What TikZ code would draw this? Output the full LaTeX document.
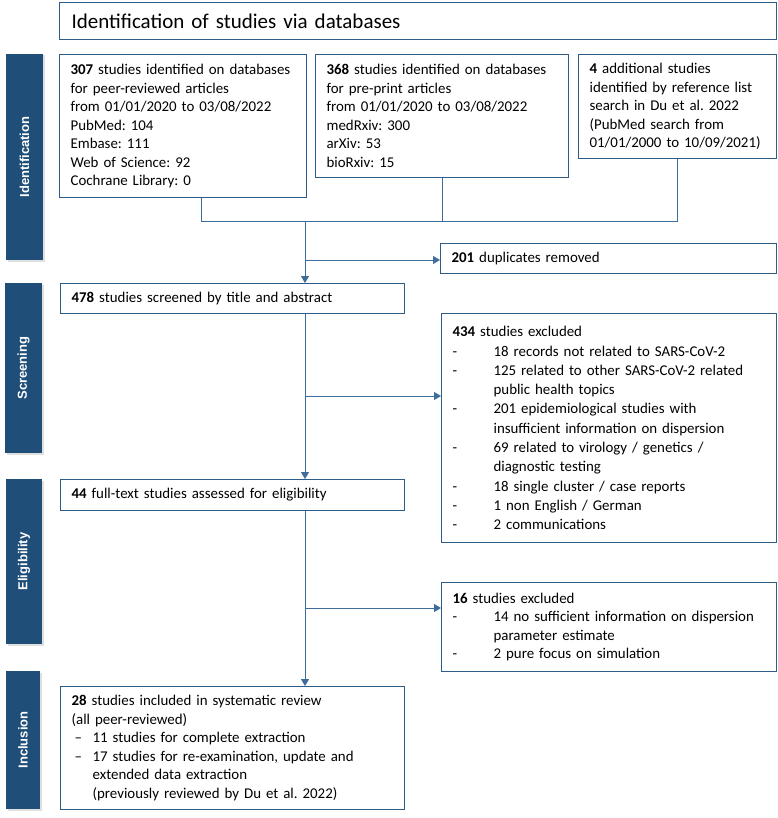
\documentclass[tikz,border=0pt]{standalone}
\usepackage{fontspec}
\setmainfont{Carlito}
\newfontfamily\barfont{Liberation Sans}
\usetikzlibrary{arrows.meta,shadows}
\definecolor{barc}{HTML}{1F4E79}
\definecolor{boxc}{HTML}{2E5C8A}
\definecolor{linec}{HTML}{3F6D9A}
\newcommand\dl{\makebox[41pt][l]{-}}
\newcommand\ind{\hspace*{41pt}}
\newcommand\dm{\hspace*{3pt}\makebox[18pt][l]{–}}
\newcommand\im{\hspace*{21pt}}
\frenchspacing
\begin{document}
\begin{tikzpicture}[x=1pt,y=-1pt,
  box/.style={draw=boxc, line width=1.2pt, fill=white, anchor=north west, inner xsep=11pt, inner ysep=0pt, align=left, font=\fontsize{14.9}{18.5}\selectfont},
  bar/.style={fill=barc, draw=none, drop shadow={shadow xshift=1.5pt, shadow yshift=-1.5pt, opacity=0.25}},
  barlabel/.style={rotate=90, text=white, font=\barfont\fontsize{13}{15}\selectfont\bfseries},
  line/.style={draw=linec, line width=0.9pt},
  arr/.style={line, -{Triangle[length=7pt,width=8pt]}}
]
\useasboundingbox (0,0) rectangle (777,818);

% phase bars
\path[bar] (6,54) rectangle (43,260);
\path[bar] (5,283) rectangle (42,453);
\path[bar] (6,479) rectangle (42,644);
\path[bar] (6,671) rectangle (40,809);
\node[barlabel] (lid) at (24.5,157) {Identification};
\node[barlabel] (lsc) at (23.5,368) {Screening};
\node[barlabel] (lel) at (24,561.5) {Eligibility};
\node[barlabel] (lin) at (23,740) {Inclusion};

% title
\node[box, inner xsep=12pt, minimum height=37pt, text width=693pt, font=\fontsize{21}{24}\selectfont] (title) at (59,2) {Identification of studies via databases};

% identification boxes
\node[box, minimum height=143pt, text width=225pt] (b1) at (59,54) {\textbf{307} studies identified on databases\\for peer-reviewed articles\\from 01/01/2020 to 03/08/2022\\PubMed: 104\\Embase: 111\\Web of Science: 92\\Cochrane Library: 0};
\node[box, minimum height=123pt, text width=231pt] (b2) at (315,54) {\textbf{368} studies identified on databases\\for pre-print articles\\from 01/01/2020 to 03/08/2022\\medRxiv: 300\\arXiv: 53\\bioRxiv: 15};
\node[box, minimum height=104pt, text width=176pt] (b3) at (578,54) {\textbf{4} additional studies\\identified by reference list\\search in Du et al. 2022\\(PubMed search from\\01/01/2000 to 10/09/2021)};

\node[box, minimum height=30pt, text width=314pt] (dup) at (440,243) {\textbf{201} duplicates removed};

% screening
\node[box, minimum height=30pt, text width=322pt] (scr) at (60,283) {\textbf{478} studies screened by title and abstract};
\node[box, minimum height=229pt, text width=313pt, font=\fontsize{14.9}{19.3}\selectfont] (ex1) at (441,313) {\textbf{434} studies excluded\\
\dl 18 records not related to SARS-CoV-2\\
\dl 125 related to other SARS-CoV-2 related\\
\ind public health topics\\
\dl 201 epidemiological studies with\\
\ind insufficient information on dispersion\\
\dl 69 related to virology / genetics /\\
\ind diagnostic testing\\
\dl 18 single cluster / case reports\\
\dl 1 non English / German\\
\dl 2 communications};

% eligibility
\node[box, minimum height=31pt, text width=322pt] (elig) at (60,479) {\textbf{44} full-text studies assessed for eligibility};
\node[box, minimum height=89pt, text width=313pt] (ex2) at (441,582) {\textbf{16} studies excluded\\
\dl 14 no sufficient information on dispersion\\
\ind parameter estimate\\
\dl 2 pure focus on simulation};

% inclusion
\node[box, minimum height=123pt, text width=322pt] (inc) at (60,686) {\textbf{28} studies included in systematic review\\(all peer-reviewed)\\
\dm 11 studies for complete extraction\\
\dm 17 studies for re-examination, update and\\
\im extended data extraction\\
\im (previously reviewed by Du et al. 2022)};

% connectors
\coordinate (c1) at (201,221);
\coordinate (m) at (305,221);
\coordinate (c3) at (b3.south |- c1);
\coordinate (k1) at (305,260);
\coordinate (k2) at (305,396);
\coordinate (k3) at (305,608);
\draw[line] (b1.south -| c1) -- (c1) -- (c3);
\draw[line] (b2.south) -- (b2.south |- c1);
\draw[line] (b3.south) -- (c3);
\draw[arr] (m) -- (scr.north -| m);
\draw[arr] (k1) -- (dup.west |- k1);
\draw[arr] (scr.south -| m) -- (elig.north -| m);
\draw[arr] (k2) -- (ex1.west |- k2);
\draw[arr] (elig.south -| m) -- (inc.north -| m);
\draw[arr] (k3) -- (ex2.west |- k3);
\end{tikzpicture}
\end{document}
